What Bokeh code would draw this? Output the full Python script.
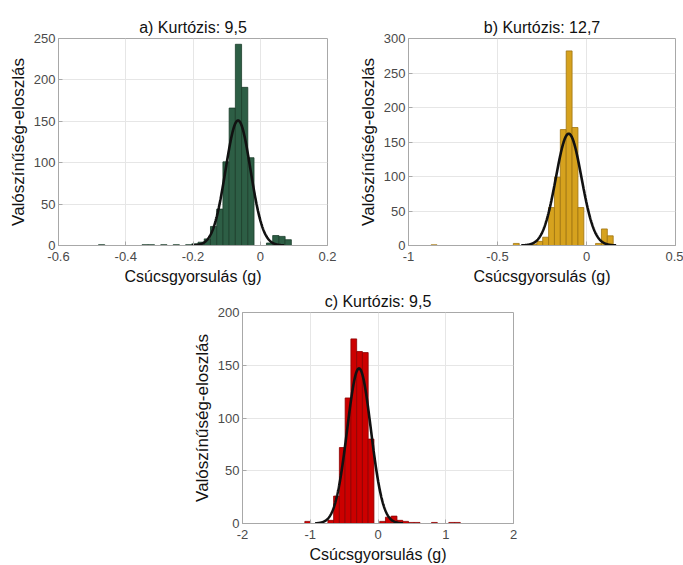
import numpy as np
from bokeh.plotting import figure
from bokeh.models import Range1d, FixedTicker, Spacer
from bokeh.layouts import column, row
from bokeh.embed import file_html
from bokeh.resources import INLINE

# ---------------- data ----------------
# panel a
a_title = "a) Kurtózis: 9,5"
a_bin_start = -0.481
a_bin_width = 0.0185
a_counts = [1, 0, 0, 0, 0, 0, 0, 1, 1, 0, 1, 0, 1, 0, 1, 2, 4, 8, 23, 44,
            101, 166, 243, 191, 106, 0, 0, 3, 12, 11, 7]
a_fit_mu, a_fit_sigma, a_fit_peak = -0.066, 0.037, 151
a_xrange = (-0.6, 0.2)
a_yrange = (0, 250)
a_xticks = [-0.6, -0.4, -0.2, 0, 0.2]
a_xtick_labels = ["-0.6", "-0.4", "-0.2", "0", "0.2"]
a_yticks = [0, 50, 100, 150, 200, 250]

# panel b
b_title = "b) Kurtózis: 12,7"
b_bin_start = -0.873
b_bin_width = 0.033
b_counts = [1, 0, 0, 0, 0, 0, 0, 0, 0, 0, 0, 0, 0, 0, 3, 0, 0, 2, 6, 12,
            55, 99, 168, 282, 171, 55, 0, 0, 3, 24, 14]
b_fit_mu, b_fit_sigma, b_fit_peak = -0.1, 0.072, 162
b_xrange = (-1, 0.5)
b_yrange = (0, 300)
b_xticks = [-1, -0.5, 0, 0.5]
b_xtick_labels = ["-1", "-0.5", "0", "0.5"]
b_yticks = [0, 50, 100, 150, 200, 250, 300]

# panel c
c_title = "c) Kurtózis: 9,5"
c_bin_start = -1.08
c_bin_width = 0.085
c_counts = [2, 0, 0, 0, 3, 26, 72, 119, 175, 163, 162, 80, 0, 2, 6, 7, 3, 2,
            1, 1, 0, 0, 1, 0, 0, 1, 1]
c_fit_mu, c_fit_sigma, c_fit_peak = -0.28, 0.175, 147
c_xrange = (-2, 2)
c_yrange = (0, 200)
c_xticks = [-2, -1, 0, 1, 2]
c_xtick_labels = ["-2", "-1", "0", "1", "2"]
c_yticks = [0, 50, 100, 150, 200]

x_label = "Csúcsgyorsulás (g)"
y_label = "Valószínűség-eloszlás"

FONT = "Liberation Sans"
FIT_SPAN = 3.7  # fitted curve drawn over mu +/- FIT_SPAN * sigma


def panel(title, start, width_bin, counts, mu, sigma, peak, xr, yr,
          xticks, xlabels, yticks, fill, edge,
          W, H, bl, br, bt, bb, title_standoff):
    p = figure(width=W, height=H, x_range=Range1d(*xr), y_range=Range1d(*yr),
               output_backend="svg", toolbar_location=None, title=title,
               min_border_left=bl, min_border_right=br,
               min_border_top=bt, min_border_bottom=bb)
    p.title.text_font = FONT
    p.title.text_font_size = "16px"
    p.title.text_font_style = "normal"
    p.title.align = "center"
    p.title.text_color = "#111111"
    p.title.standoff = title_standoff

    counts = np.array(counts, dtype=float)
    lefts = start + width_bin * np.arange(len(counts))
    mask = counts > 0
    p.quad(left=lefts[mask], right=lefts[mask] + width_bin, bottom=0,
           top=counts[mask], fill_color=fill, line_color=edge, line_width=0.8)

    xs = np.linspace(mu - FIT_SPAN * sigma, mu + FIT_SPAN * sigma, 400)
    ys = peak * np.exp(-0.5 * ((xs - mu) / sigma) ** 2)
    p.line(xs, ys, line_color="#111111", line_width=2.6)

    p.xaxis.ticker = FixedTicker(ticks=xticks)
    p.xaxis.major_label_overrides = {t: l for t, l in zip(xticks, xlabels)}
    p.yaxis.ticker = FixedTicker(ticks=yticks)
    p.yaxis.major_label_overrides = {t: str(t) for t in yticks}

    p.xaxis.axis_label = x_label
    p.yaxis.axis_label = y_label
    for ax in (p.xaxis, p.yaxis):
        ax.axis_label_text_font = FONT
        ax.axis_label_text_font_style = "normal"
        ax.axis_label_text_color = "#111111"
        ax.major_label_text_font = FONT
        ax.major_label_text_font_size = "13px"
        ax.major_label_text_color = "#4a4a4a"
        ax.major_tick_in = 4
        ax.major_tick_out = 0
        ax.minor_tick_line_color = None
        ax.axis_line_color = "#a8a8a8"
        ax.major_tick_line_color = "#a8a8a8"
    p.xaxis.axis_label_text_font_size = "16px"
    p.yaxis.axis_label_text_font_size = "17px"
    p.xaxis.major_label_standoff = 6
    p.xaxis.axis_label_standoff = 4
    p.yaxis.major_label_standoff = 3
    p.yaxis.axis_label_standoff = 3

    p.grid.grid_line_color = "#e6e6e6"
    p.outline_line_color = "#a8a8a8"
    p.background_fill_color = "white"
    p.border_fill_color = "white"
    return p


pa = panel(a_title, a_bin_start, a_bin_width, a_counts, a_fit_mu, a_fit_sigma,
           a_fit_peak, a_xrange, a_yrange, a_xticks, a_xtick_labels, a_yticks,
           "#2d5e45", "#1c3d2b", W=340, H=287, bl=58, br=13, bt=35, bb=42,
           title_standoff=6)
pb = panel(b_title, b_bin_start, b_bin_width, b_counts, b_fit_mu, b_fit_sigma,
           b_fit_peak, b_xrange, b_yrange, b_xticks, b_xtick_labels, b_yticks,
           "#d6a21e", "#a07410", W=343, H=287, bl=68, br=8, bt=38, bb=42,
           title_standoff=6)
pc = panel(c_title, c_bin_start, c_bin_width, c_counts, c_fit_mu, c_fit_sigma,
           c_fit_peak, c_xrange, c_yrange, c_xticks, c_xtick_labels, c_yticks,
           "#cc0000", "#8a0000", W=341, H=278, bl=60, br=10, bt=23, bb=38,
           title_standoff=6)

layout = column(row(pa, pb), row(Spacer(width=182, height=278), pc))

open("out.html", "w").write(file_html(layout, INLINE))
